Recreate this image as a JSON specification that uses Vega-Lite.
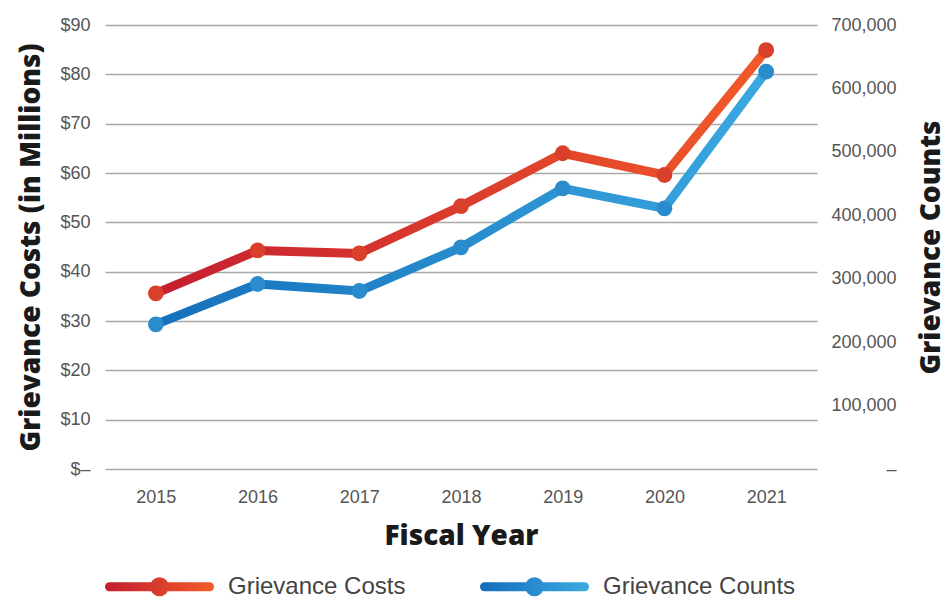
{
  "$schema": "https://vega.github.io/schema/vega-lite/v6.json",
  "width": 712,
  "height": 444,
  "autosize": "none",
  "padding": {"left": 105, "top": 25, "right": 130, "bottom": 129},
  "background": "white",
  "config": {
    "view": {"stroke": null},
    "axis": {
      "labelFont": "Liberation Sans",
      "labelFontSize": 18,
      "labelColor": "#555555",
      "titleFont": "Open Sans",
      "titleFontWeight": 800,
      "titleFontSize": 28,
      "titleColor": "#1a1a1a",
      "domain": false,
      "ticks": false
    }
  },
  "data": {
    "values": [
      {"year": "2015", "cost": 35.6, "count": 228100},
      {"year": "2016", "cost": 44.3, "count": 291700},
      {"year": "2017", "cost": 43.7, "count": 280600},
      {"year": "2018", "cost": 53.3, "count": 349500},
      {"year": "2019", "cost": 64.0, "count": 442500},
      {"year": "2020", "cost": 59.6, "count": 411000},
      {"year": "2021", "cost": 84.9, "count": 626400}
    ]
  },
  "encoding": {
    "x": {
      "field": "year",
      "type": "ordinal",
      "scale": {"type": "point", "padding": 0.5},
      "axis": {"title": "Fiscal Year", "labelAngle": 0, "labelPadding": 19, "titlePadding": 16, "grid": false}
    }
  },
  "layer": [
    {
      "encoding": {
        "y": {
          "field": "cost",
          "type": "quantitative",
          "scale": {"domain": [0, 90], "nice": false},
          "axis": {
            "title": "Grievance Costs (in Millions)",
            "values": [0, 10, 20, 30, 40, 50, 60, 70, 80, 90],
            "labelExpr": "datum.value === 0 ? '$–' : '$' + datum.value",
            "grid": true,
            "gridColor": "#a8a8a8",
            "gridWidth": 1.5,
            "labelPadding": 15,
            "titlePadding": 14
          }
        }
      },
      "layer": [
        {
          "mark": {
            "type": "line",
            "strokeWidth": 9,
            "strokeJoin": "round",
            "strokeCap": "round",
            "color": {"gradient": "linear", "x1": 0, "y1": 0, "x2": 1, "y2": 0, "stops": [{"offset": 0, "color": "#c41f30"}, {"offset": 1, "color": "#f15a29"}]}
          }
        },
        {
          "mark": {"type": "point", "filled": true, "size": 250, "opacity": 1},
          "encoding": {
            "color": {
              "datum": "Grievance Costs",
              "scale": {"domain": ["Grievance Costs", "Grievance Counts"], "range": ["#d9402c", "#2a8ccc"]},
              "legend": {
                "orient": "none",
                "legendX": 0,
                "legendY": 507,
                "direction": "horizontal",
                "title": null,
                "padding": 0,
                "symbolType": "M-1,0L1,0M-0.1,0A0.1,0.1 0 1,0 0.1,0A0.1,0.1 0 1,0 -0.1,0",
                "symbolSize": 10000,
                "symbolStrokeWidth": 9,
                "symbolOpacity": 1,
                "labelFont": "Liberation Sans",
                "labelFontSize": 24,
                "labelColor": "#444444",
                "labelOffset": 14,
                "labelLimit": 400,
                "columnPadding": 60,
                "encode": {
                  "symbols": {
                    "update": {
                      "strokeCap": {"value": "round"},
                      "stroke": [
                        {"test": "datum.value === 'Grievance Costs'", "value": {"gradient": "linear", "x1": 0, "y1": 0, "x2": 1, "y2": 0, "stops": [{"offset": 0, "color": "#c41f30"}, {"offset": 1, "color": "#f15a29"}]}},
                        {"value": {"gradient": "linear", "x1": 0, "y1": 0, "x2": 1, "y2": 0, "stops": [{"offset": 0, "color": "#1570bb"}, {"offset": 1, "color": "#3aa8e0"}]}}
                      ]
                    }
                  }
                }
              }
            }
          }
        }
      ]
    },
    {
      "encoding": {
        "y": {
          "field": "count",
          "type": "quantitative",
          "scale": {"domain": [0, 700000], "nice": false},
          "axis": {
            "orient": "right",
            "title": "Grievance Counts",
            "titleAngle": 270,
            "values": [0, 100000, 200000, 300000, 400000, 500000, 600000, 700000],
            "labelExpr": "datum.value === 0 ? '–' : format(datum.value, ',')",
            "labelAlign": "right",
            "labelPadding": 79,
            "titlePadding": 49,
            "grid": false
          }
        }
      },
      "layer": [
        {
          "mark": {
            "type": "line",
            "strokeWidth": 9,
            "strokeJoin": "round",
            "strokeCap": "round",
            "color": {"gradient": "linear", "x1": 0, "y1": 0, "x2": 1, "y2": 0, "stops": [{"offset": 0, "color": "#1570bb"}, {"offset": 1, "color": "#3aa8e0"}]}
          }
        },
        {
          "mark": {"type": "point", "filled": true, "size": 250, "opacity": 1},
          "encoding": {"color": {"datum": "Grievance Counts"}}
        }
      ]
    }
  ],
  "resolve": {"scale": {"y": "independent"}}
}
